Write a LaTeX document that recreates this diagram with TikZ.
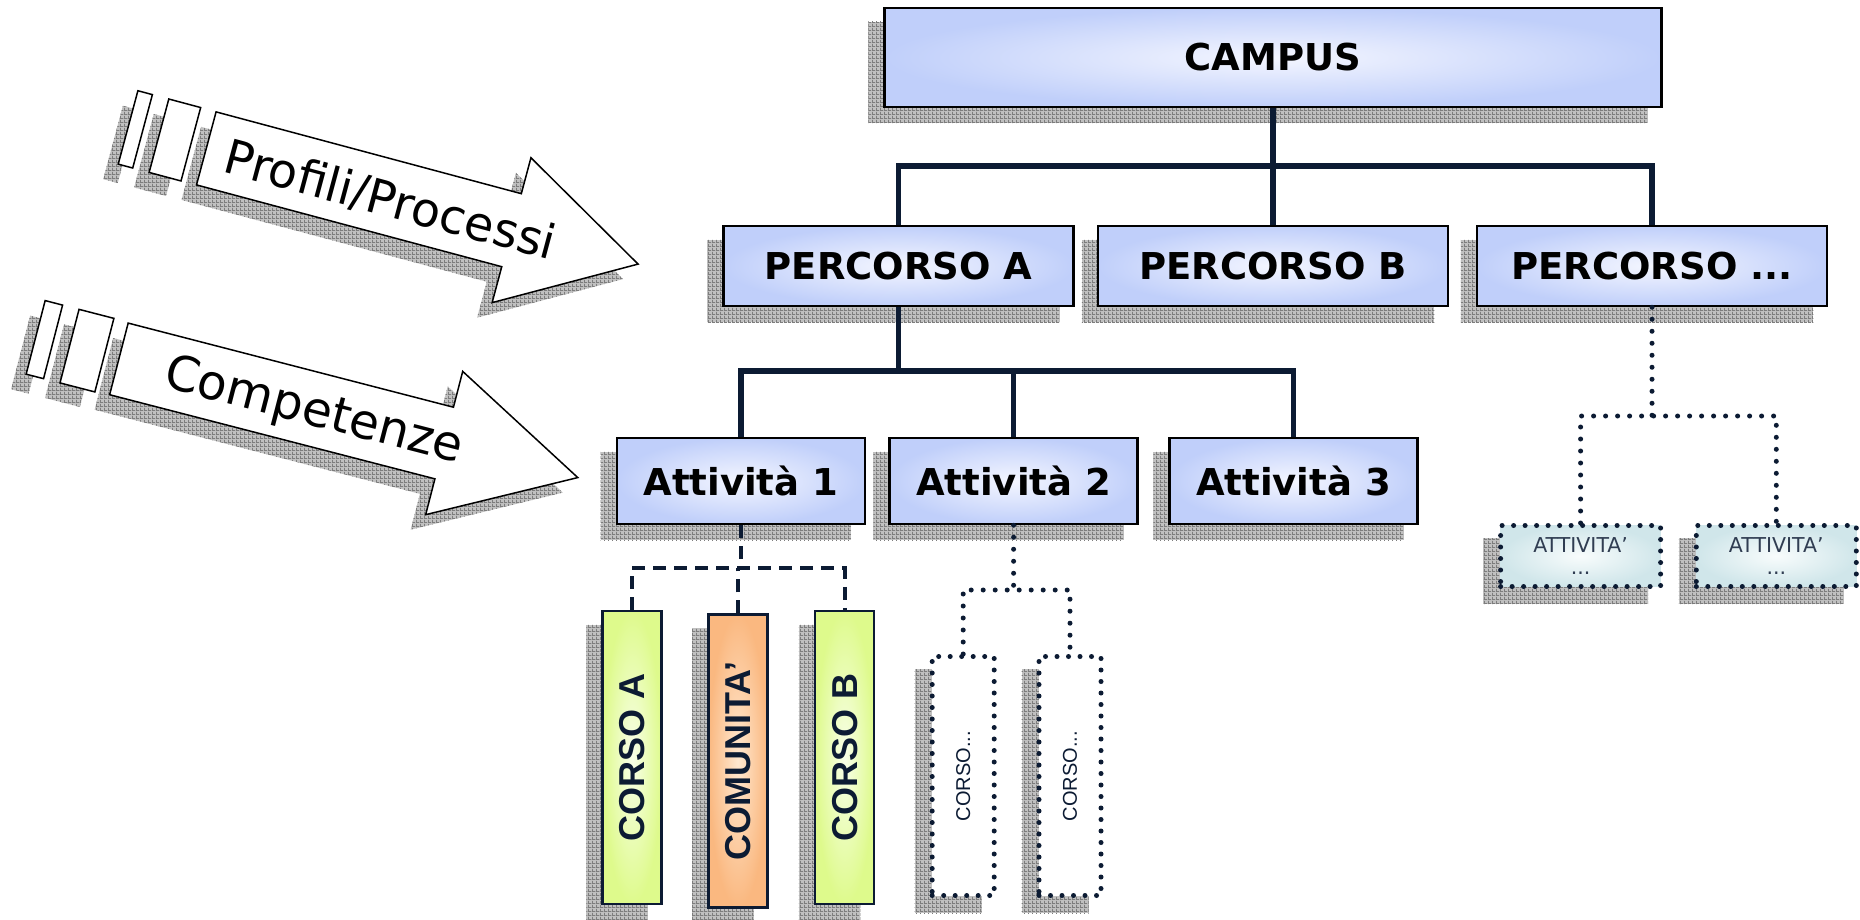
\documentclass[tikz,border=0pt]{standalone}
\usepackage{fontspec}
\setmainfont{DejaVu Sans}
\newfontfamily\arialf{Liberation Sans}
\usepackage{graphicx}
\usetikzlibrary{patterns.meta}

\definecolor{navy}{RGB}{12,27,51}
\definecolor{blueout}{RGB}{192,207,250}
\definecolor{bluein}{RGB}{244,246,255}
\definecolor{greenout}{RGB}{222,250,140}
\definecolor{greenin}{RGB}{248,255,232}
\definecolor{orangeout}{RGB}{250,184,128}
\definecolor{orangein}{RGB}{255,232,208}
\definecolor{tealout}{RGB}{208,230,234}
\definecolor{tealin}{RGB}{248,252,252}
\definecolor{shadowlight}{RGB}{192,192,192}
\definecolor{shadowline}{RGB}{125,125,125}

\pgfdeclarelayer{shadowlayer}
\pgfsetlayers{shadowlayer,main}

\tikzdeclarepattern{
  name=shgrid,
  type=uncolored,
  bounding box={(0pt,0pt) and (4pt,4pt)},
  tile size={(4pt,4pt)},
  code={
    \draw[line width=1pt] (0pt,0.5pt) -- (4pt,0.5pt);
    \draw[line width=1pt] (0.5pt,0pt) -- (0.5pt,4pt);
  }
}

\newcommand\boxshadowof[1]{%
  \begin{pgfonlayer}{shadowlayer}
    \path[shadowpat] ([shift={(-15,15)}]#1.north west) rectangle ([shift={(-15,15)}]#1.south east);
  \end{pgfonlayer}}

\begin{document}
\begin{tikzpicture}[x=1pt,y=-1pt,
  shadowpat/.style={preaction={fill=shadowlight}, pattern={shgrid}, pattern color=shadowline},
  bluebox/.style={draw=black, line width=2.5pt, inner color=bluein, outer color=blueout,
    inner sep=0pt, font=\fontsize{37}{40}\selectfont\bfseries},
  vbox/.style={draw=navy, line width=2.5pt, inner sep=0pt, minimum width=59pt, minimum height=293pt,
    text=navy, font=\arialf\fontsize{36}{40}\selectfont\bfseries},
  dotbox/.style={draw=navy, line width=5pt, dash pattern=on 0pt off 11.5pt, line cap=round, inner sep=0pt},
  solidconn/.style={draw=navy, line width=5.5pt},
  dashconn/.style={draw=navy, line width=4pt, dash pattern=on 13pt off 8pt},
  dotconn/.style={draw=navy, line width=5pt, dash pattern=on 0pt off 12pt, line cap=round},
  arrowshape/.style={draw=black, fill=white, line width=1.5pt, line join=miter},
  arrowtext/.style={inner sep=0pt}
]
\useasboundingbox (0,0) rectangle (1860,919);
\begin{pgfonlayer}{shadowlayer}
\fill[white] (0,0) rectangle (1860,919);
\end{pgfonlayer}

% ---------- left block arrows ----------
\begin{scope}[shift={(191.3,163.4)},rotate=-15]
  \path[shadowpat] (0,-37.8) -- (316,-37.8) -- (316,-75) -- (447,0) -- (316,75) -- (316,37.8) -- (0,37.8) -- cycle;
  \path[shadowpat] (-81,-38) rectangle (-66,38);
  \path[shadowpat] (-49,-38) rectangle (-16,38);
\end{scope}
\begin{scope}[shift={(206.3,148.4)},rotate=-15]
  \draw[arrowshape] (0,-37.8) -- (316,-37.8) -- (316,-75) -- (447,0) -- (316,75) -- (316,37.8) -- (0,37.8) -- cycle;
  \draw[arrowshape] (-81,-38) rectangle (-66,38);
  \draw[arrowshape] (-49,-38) rectangle (-16,38);
  \node[arrowtext, rotate=-15, font=\fontsize{47.5}{50}\selectfont] (profili) at (191,3) {Profili/Processi};
\end{scope}

\begin{scope}[shift={(103.9,373.9)},rotate=-14.5]
  \path[shadowpat] (0,-37) -- (336,-37) -- (336,-74) -- (474,0) -- (336,74) -- (336,37) -- (0,37) -- cycle;
  \path[shadowpat] (-86,-38) rectangle (-68,38);
  \path[shadowpat] (-51,-38) rectangle (-15,38);
\end{scope}
\begin{scope}[shift={(118.9,358.9)},rotate=-14.5]
  \draw[arrowshape] (0,-37) -- (336,-37) -- (336,-74) -- (474,0) -- (336,74) -- (336,37) -- (0,37) -- cycle;
  \draw[arrowshape] (-86,-38) rectangle (-68,38);
  \draw[arrowshape] (-51,-38) rectangle (-15,38);
  \node[arrowtext, rotate=-14.5, font=\fontsize{48.5}{50}\selectfont] (competenze) at (202,3) {Competenze};
\end{scope}

% ---------- hierarchy nodes ----------
\node[bluebox, minimum width=777pt, minimum height=99pt] (campus) at (1273,57.5) {CAMPUS};

\node[bluebox, minimum width=350pt, minimum height=80pt] (percA) at (898.5,266) {PERCORSO A};
\node[bluebox, minimum width=350pt, minimum height=80pt] (percB) at (1273,266) {PERCORSO B};
\node[bluebox, minimum width=350pt, minimum height=80pt] (percD) at (1652,266) {PERCORSO ...};

\node[bluebox, minimum width=248pt, minimum height=86pt] (att1) at (740.8,481) {Attività 1};
\node[bluebox, minimum width=248pt, minimum height=86pt] (att2) at (1013.6,481) {Attività 2};
\node[bluebox, minimum width=248pt, minimum height=86pt] (att3) at (1293.5,481) {Attività 3};

\node[vbox, inner color=greenin, outer color=greenout] (corsoA) at (632.2,757.5) {\rotatebox{90}{CORSO A}};
\node[vbox, inner color=orangein, outer color=orangeout] (comunita) at (737.8,761) {\rotatebox{90}{COMUNITA’}};
\node[vbox, inner color=greenin, outer color=greenout] (corsoB) at (844.6,757.5) {\rotatebox{90}{CORSO B}};

\node[dotbox, fill=white, minimum width=62pt, minimum height=239pt, text=navy,
  font=\arialf\fontsize{20}{22}\selectfont] (c1) at (963.2,776) {\rotatebox{90}{CORSO...}};
\node[dotbox, fill=white, minimum width=62pt, minimum height=239pt, text=navy,
  font=\arialf\fontsize{20}{22}\selectfont] (c2) at (1070,776) {\rotatebox{90}{CORSO...}};

\node[dotbox, inner color=tealin, outer color=tealout, minimum width=160pt, minimum height=61pt,
  text=navy!85, align=center, font=\fontsize{20.5}{22}\selectfont] (a1) at (1580.6,556) {ATTIVITA'\\...};
\node[dotbox, inner color=tealin, outer color=tealout, minimum width=160pt, minimum height=61pt,
  text=navy!85, align=center, font=\fontsize{20.5}{22}\selectfont] (a2) at (1776.3,556) {ATTIVITA'\\...};

% ---------- shadows (behind) ----------
\boxshadowof{campus}
\boxshadowof{percA}
\boxshadowof{percB}
\boxshadowof{percD}
\boxshadowof{att1}
\boxshadowof{att2}
\boxshadowof{att3}
\boxshadowof{corsoA}
\boxshadowof{comunita}
\boxshadowof{corsoB}
\boxshadowof{c1}
\boxshadowof{c2}
\boxshadowof{a1}
\boxshadowof{a2}

% ---------- junctions ----------
\coordinate (jc) at (1273,166);
\coordinate (ja) at (898.5,371);
\coordinate (j1) at (740.8,568);
\coordinate (j2) at (1013.6,590);
\coordinate (jd) at (1652,416);

% ---------- connectors ----------
\draw[solidconn] (campus.south) -- (jc);
\draw[solidconn] (percA.north) |- (jc) -| (percD.north);
\draw[solidconn] (percB.north) -- (percB.north |- jc);

\draw[solidconn] (percA.south) -- (ja);
\draw[solidconn] (att1.north) |- (ja) -| (att3.north);
\draw[solidconn] (att2.north) -- (att2.north |- ja);

\draw[dashconn] (att1.south) -- (j1);
\draw[dashconn] (corsoA.north) |- (j1) -| (corsoB.north);
\draw[dashconn] (comunita.north) -- (comunita.north |- j1);

\draw[dotconn] (att2.south) -- (j2);
\draw[dotconn] (c1.north) |- (j2) -| (c2.north);

\draw[dotconn] (percD.south) -- (jd);
\draw[dotconn] (a1.north) |- (jd) -| (a2.north);
\end{tikzpicture}
\end{document}
